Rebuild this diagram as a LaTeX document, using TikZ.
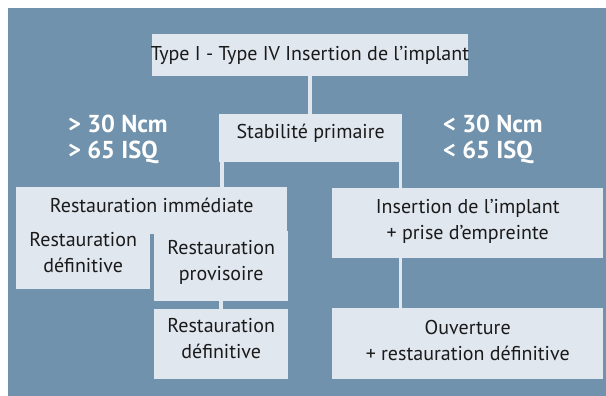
\documentclass[tikz,border=0pt]{standalone}
\usepackage{fontspec}
\setmainfont{PT Sans}
\definecolor{bgc}{RGB}{112,146,172}
\definecolor{boxc}{RGB}{225,231,239}
\definecolor{txtc}{RGB}{26,26,26}
\begin{document}
\begin{tikzpicture}[x=1pt,y=-1pt,
  bx/.style={fill=boxc,draw=none,inner sep=0pt,anchor=north west},
  tx/.style={text=txtc,font=\fontsize{20}{26}\selectfont,align=center,anchor=base,inner sep=0pt},
  lb/.style={text=white,font=\bfseries\fontsize{24.5}{27}\selectfont,anchor=base west,inner sep=0pt},
  conn/.style={draw=boxc,line width=3.5pt}]
\useasboundingbox (0,0) rectangle (606,396);
\fill[bgc] (8,8) rectangle (606,396);
% boxes
\node[bx,minimum width=316.5pt,minimum height=42pt] (top) at (151.5,34) {};
\node[bx,minimum width=183pt,minimum height=48pt] (stab) at (219,114) {};
\node[bx,minimum width=271pt,minimum height=47pt] (imm) at (16,187) {};
\node[bx,minimum width=134pt,minimum height=56pt] (defl) at (16,233) {};
\node[bx,minimum width=134pt,minimum height=70pt] (prov) at (154,231) {};
\node[bx,minimum width=134pt,minimum height=70pt] (def2) at (154,309) {};
\node[bx,minimum width=271pt,minimum height=70pt] (ins) at (332,188) {};
\node[bx,minimum width=271pt,minimum height=71pt] (ouv) at (332,308) {};
% connectors
\draw[conn] (top.south) -- (top.south |- stab.north);
\coordinate (lx) at ([xshift=3pt]stab.south west);
\coordinate (rx) at ([xshift=-2pt]stab.south east);
\draw[conn] (lx) -- (lx |- imm.north);
\draw[conn] (rx) -- (rx |- ins.north);
\draw[conn] (rx |- ins.south) -- (rx |- ouv.north);
\draw[conn] (prov.south) -- (def2.north);
% texts (base = baseline of last line)
\node[tx] (topt) at (top.center |- 0,61) {Type I - Type IV Insertion de l’implant};
\node[tx] (stabt) at (stab.center |- 0,138.5) {Stabilité primaire};
\node[tx] (immt) at (imm.center |- 0,212) {Restauration immédiate};
\node[tx] (deflt) at (defl.center |- 0,272) {Restauration\\définitive};
\node[tx] (provt) at (prov.center |- 0,280) {Restauration\\provisoire};
\node[tx] (def2t) at (def2.center |- 0,358) {Restauration\\définitive};
\node[tx] (inst) at (ins.center |- 0,239) {Insertion de l’implant\\+ prise d’empreinte};
\node[tx] (ouvt) at (ouv.center |- 0,360) {Ouverture\\+ restauration définitive};
% labels
\node[lb] (l1) at (68,132) {> 30 Ncm};
\node[lb] (l2) at (68,159) {> 65 ISQ};
\node[lb] (r1) at (443,132) {< 30 Ncm};
\node[lb] (r2) at (443,159) {< 65 ISQ};
\end{tikzpicture}
\end{document}
